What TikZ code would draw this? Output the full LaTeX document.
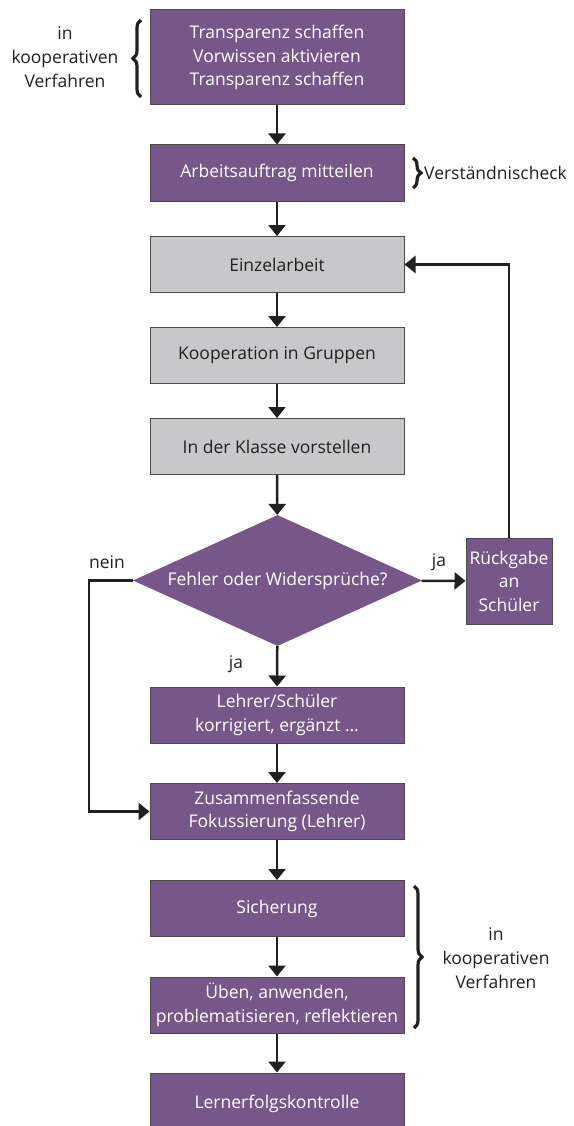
\documentclass[tikz,border=0pt]{standalone}
\usepackage{fontspec}
\setmainfont{Open Sans}
\usetikzlibrary{arrows.meta}
\usetikzlibrary{shapes.geometric}
\usetikzlibrary{decorations.pathreplacing}
\definecolor{lila}{HTML}{77578A}
\definecolor{grau}{HTML}{C8C8CA}
\definecolor{rand}{HTML}{4A4A4A}
\definecolor{schrift}{HTML}{231F20}
\tikzset{
  box/.style = {rectangle, align=center, inner sep=0pt, draw=rand,
    line width=1pt, minimum width=254pt, minimum height=56pt,
    font=\fontsize{17.5}{23.5}\selectfont},
  box_p/.style = {box, fill=lila, text=white},% Lehrerphase, lila
  box_g/.style = {box, fill=grau, text=schrift},% Schuelerphase, grau
  box_d/.style = {diamond, fill=lila, text=white, inner sep=0pt,
    minimum width=289pt, minimum height=131pt, aspect=2.2,
    font=\fontsize{17.5}{23.5}\selectfont},% Entscheidung
  lbl/.style = {align=center, inner sep=0pt, text=schrift,
    font=\fontsize{17.5}{24}\selectfont},
  pfeil/.style = {-{Triangle[width=17pt,length=11pt]}, line width=2.5pt,
    draw=schrift},
  klammer/.style = {decorate, decoration={brace, amplitude=8pt},
    line width=3.2pt, draw=schrift}
}

\begin{document}
\begin{tikzpicture}[x=1pt,y=-1pt]
\useasboundingbox (0,0) rectangle (573,1126);

\node [box_p, minimum height=95pt] (trans) at (277,57.5)
  {Transparenz schaffen\\Vorwissen aktivieren\\Transparenz schaffen};
\node [box_p] (auftrag) at (277,173) {Arbeitsauftrag mitteilen};
\node [box_g] (einzel) at (277,264.5) {Einzelarbeit};
\node [box_g] (koop) at (277,355.5) {Kooperation in Gruppen};
\node [box_g] (klasse) at (277,446.5) {In der Klasse vorstellen};
\node [box_d] (frage) at (277.5,580.5) {Fehler oder Widersprüche?};
\node [box_p, minimum width=86pt, minimum height=86pt] (rueck) at (509,581)
  {Rückgabe\\an\\Schüler};
\node [box_p] (korr) at (277,715) {Lehrer/Schüler\\korrigiert, ergänzt \dots};
\node [box_p] (fokus) at (277,811.5) {Zusammenfassende\\Fokussierung (Lehrer)};
\node [box_p] (sicher) at (277,908.5) {Sicherung};
\node [box_p] (ueben) at (277,1005)
  {Üben, anwenden,\\problematisieren, reflektieren};
\node [box_p, minimum height=62pt] (kontr) at (277,1104) {Lernerfolgskontrolle};

% Beschriftungen
\node [lbl] (koop_o) at (65,57.5) {in\\kooperativen\\Verfahren};
\node [lbl, anchor=west] (check) at (424,173) {Verständnischeck};
\node [lbl] (koop_u) at (496,958) {in\\kooperativen\\Verfahren};
\node [lbl] (nein) at (107,562) {nein};
\node [lbl] (ja_r) at (439,562) {ja};
\node [lbl] (ja_u) at (236,664) {ja};

% Klammern
\draw [klammer] (141,97) -- (141,20);
\draw [klammer] (413,158) -- (413,188);
\draw [klammer] (414,886) -- (414,1028);

% Pfeile
\draw [pfeil] (trans) -- (auftrag);
\draw [pfeil] (auftrag) -- (einzel);
\draw [pfeil] (einzel) -- (koop);
\draw [pfeil] (koop) -- (klasse);
\draw [pfeil] (klasse) -- (frage);
\draw [pfeil] (frage) -- (rueck);
\draw [pfeil] (rueck.north) |- (einzel.east);
\draw [pfeil] (frage) -- (korr);
\coordinate (knick) at ([xshift=-44pt]frage.west);
\draw [pfeil] (frage.west) -- (knick) |- (fokus.west);
\draw [pfeil] (korr) -- (fokus);
\draw [pfeil] (fokus) -- (sicher);
\draw [pfeil] (sicher) -- (ueben);
\draw [pfeil] (ueben) -- (kontr);
\end{tikzpicture}
\end{document}
